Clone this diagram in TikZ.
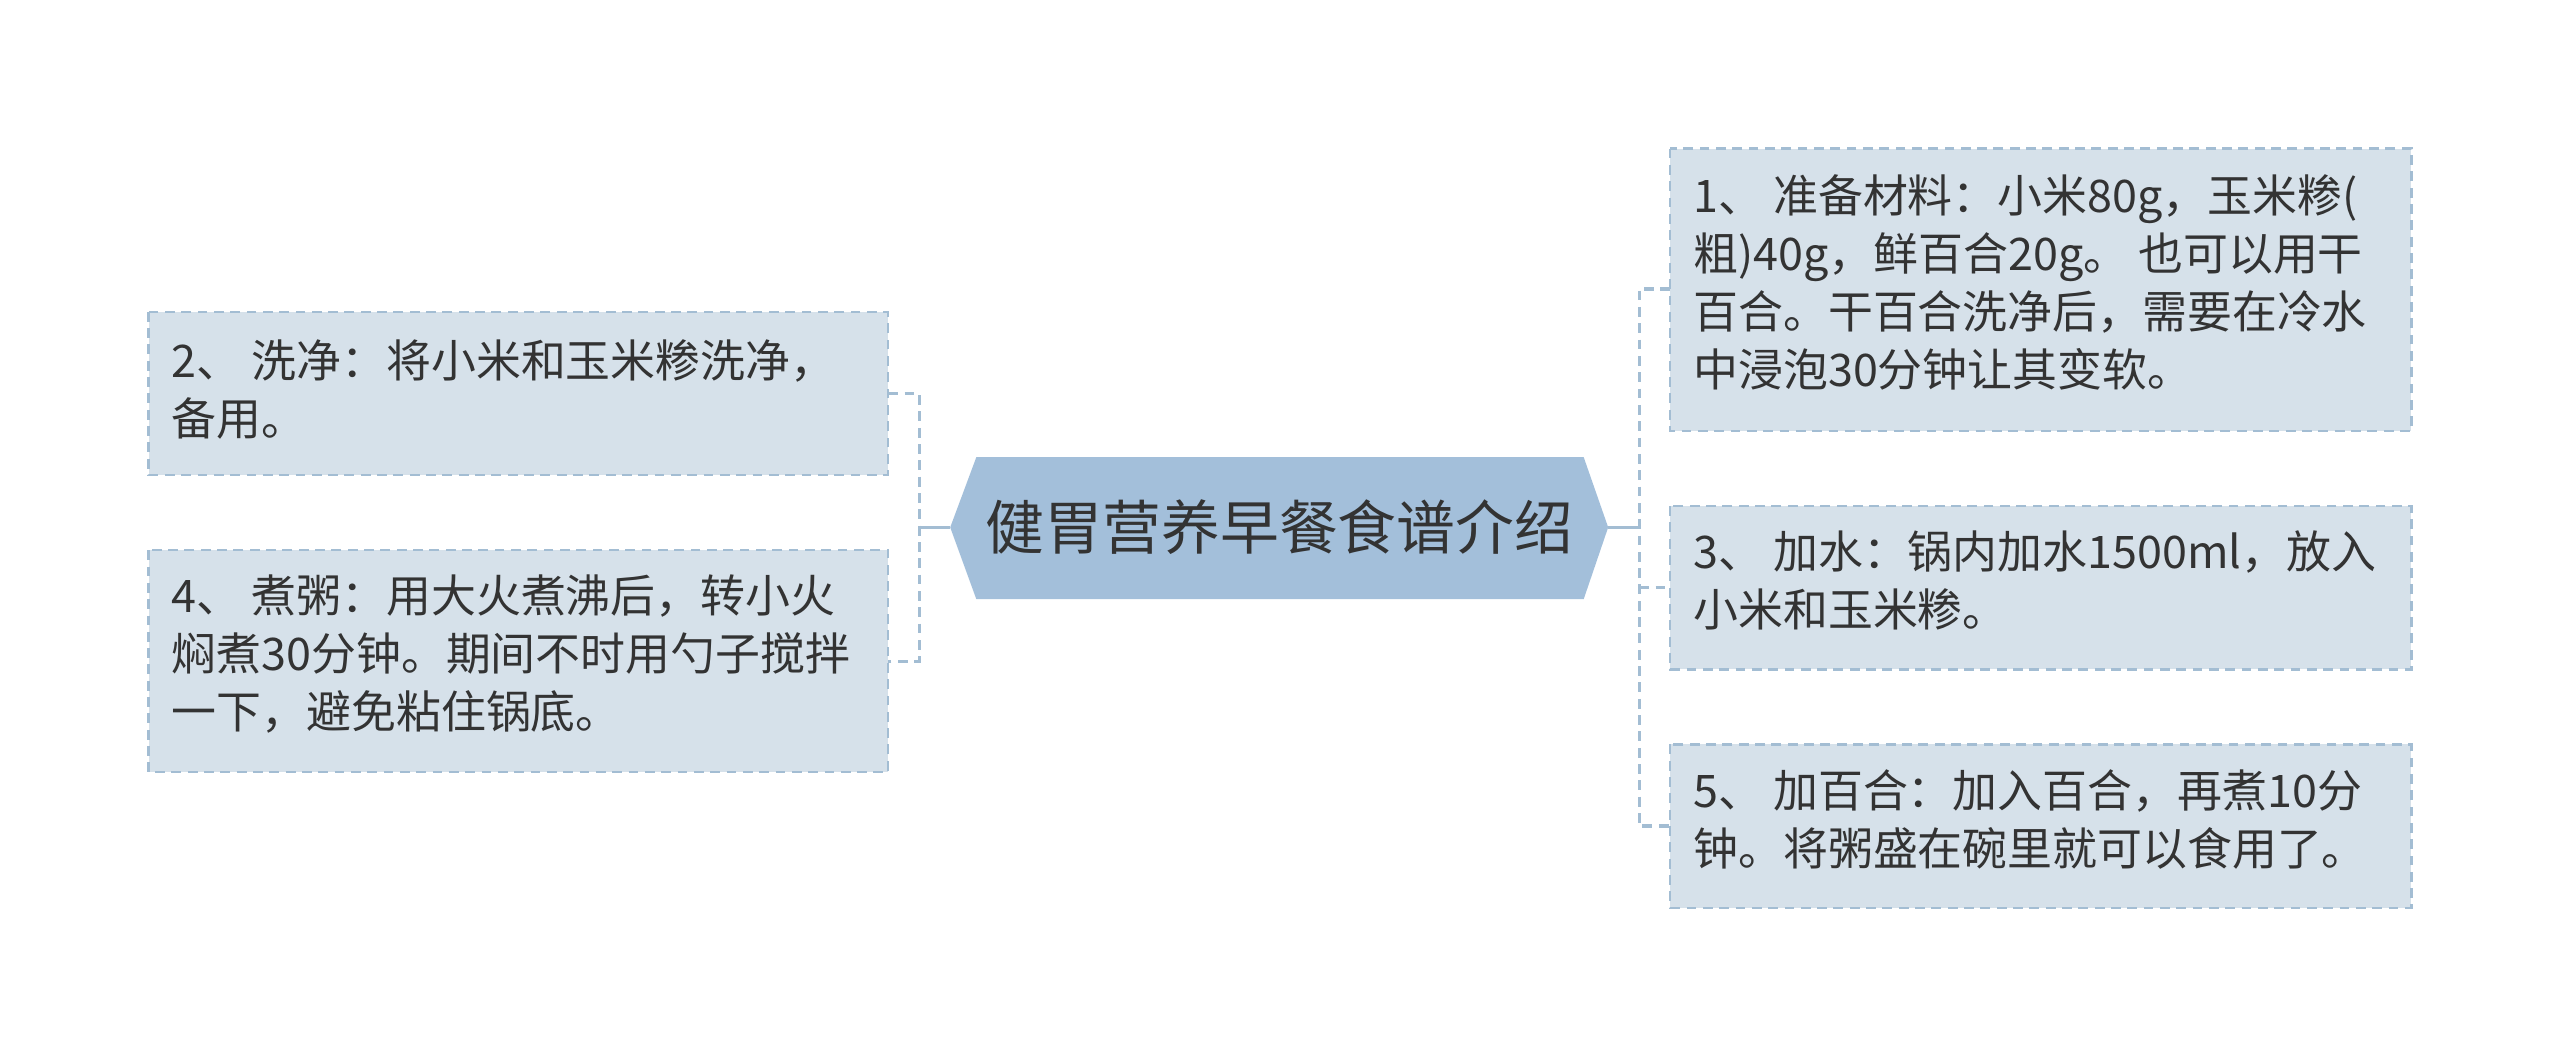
\documentclass[tikz,border=0pt]{standalone}
\usepackage{fontspec}
\setmainfont{Noto Sans CJK SC}
\definecolor{boxfill}{HTML}{D6E1EA}
\definecolor{boxline}{HTML}{A3BDD3}
\definecolor{hexfill}{HTML}{A3BFDA}
\definecolor{txt}{HTML}{333333}
\tikzset{
 leaf/.style={draw=boxline,fill=boxfill,dash pattern=on 6pt off 4pt,line width=1.5pt},
 ltext/.style={text=txt,anchor=north west,align=left,inner sep=0pt,font=\fontsize{27.5}{35.5}\selectfont},
 conn/.style={draw=boxline,line width=2pt,dash pattern=on 6pt off 4pt},
}
\begin{document}
\begin{tikzpicture}[x=1pt,y=-1pt]
\useasboundingbox (0,0) rectangle (1568,647);
\path[leaf] (91,191) rectangle (544,291);
\node[ltext] (l1) at (105,208) {2、 洗净：将小米和玉米糁洗净，\\备用。};
\path[leaf] (91,337) rectangle (544,473);
\node[ltext] (l2) at (105,352) {4、 煮粥：用大火煮沸后，转小火\\焖煮30分钟。期间不时用勺子搅拌\\一下，避免粘住锅底。};
\path[leaf] (1023,91) rectangle (1477,264);
\node[ltext] (r1) at (1037,107) {1、 准备材料：小米80g，玉米糁(\\粗)40g，鲜百合20g。 也可以用干\\百合。干百合洗净后，需要在冷水\\中浸泡30分钟让其变软。};
\path[leaf] (1023,310) rectangle (1477,410);
\node[ltext] (r2) at (1037,325) {3、 加水：锅内加水1500ml，放入\\小米和玉米糁。};
\path[leaf] (1023,456) rectangle (1477,556);
\node[ltext] (r3) at (1037,471) {5、 加百合：加入百合，再煮10分\\钟。将粥盛在碗里就可以食用了。};
\fill[hexfill] (582,323)--(598,280)--(970,280)--(985,323)--(970,367)--(598,367)--cycle;
\node[text=txt,font=\fontsize{36}{40}\selectfont] (c) at (783.5,323) {健胃营养早餐食谱介绍};
\coordinate (cl) at (582,323); \coordinate (cr) at (985,323);
\draw[draw=boxline,line width=2pt] (cl)--(563,323);
\draw[conn] (544,241)--(563,241)--(563,405)--(544,405);
\draw[draw=boxline,line width=2pt] (cr)--(1004,323);
\draw[conn] (1023,177)--(1004,177)--(1004,506)--(1023,506);
\draw[conn] (1004,360)--(1023,360);
\end{tikzpicture}
\end{document}
